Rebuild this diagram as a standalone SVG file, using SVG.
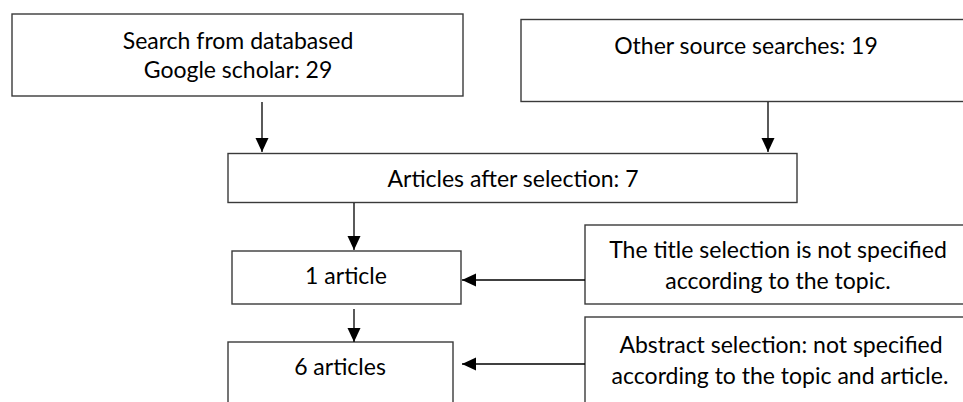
<svg xmlns="http://www.w3.org/2000/svg" width="963" height="402" viewBox="0 0 963 402">
<style>
.box{fill:#fff;stroke:#3a3a3a;stroke-width:1.4}
.t{font-family:Lato,"Open Sans","Liberation Sans",sans-serif;font-size:23px;fill:#000;text-anchor:middle}
.c{stroke:#000;stroke-width:1.3;fill:none;marker-end:url(#ah)}
</style>
<defs>
<marker id="ah" viewBox="0 0 14 14" refX="14" refY="7" markerWidth="14" markerHeight="14" markerUnits="userSpaceOnUse" orient="auto">
<path d="M0,0.5 L14,7 L0,13.5 Z" fill="#000"/>
</marker>
</defs>
<rect width="963" height="402" fill="#fff"/>
<g id="n1"><rect class="box" x="12" y="14" width="451" height="82"/>
<text class="t" x="238" y="48.5">Search from databased</text>
<text class="t" x="238" y="77.5">Google scholar: 29</text></g>
<g id="n2"><rect class="box" x="521" y="19.5" width="500" height="82"/>
<text class="t" x="746" y="53.5">Other source searches: 19</text></g>
<g id="n3"><rect class="box" x="228" y="153.5" width="569" height="49"/>
<text class="t" x="513" y="187">Articles after selection: 7</text></g>
<g id="n4"><rect class="box" x="232" y="251" width="229" height="53"/>
<text class="t" x="346" y="283.5">1 article</text></g>
<g id="n5"><rect class="box" x="228" y="342" width="225" height="90"/>
<text class="t" x="340" y="374.5">6 articles</text></g>
<g id="n6"><rect class="box" x="585" y="225" width="400" height="79"/>
<text class="t" x="778" y="257.5">The title selection is not specified</text>
<text class="t" x="778" y="288.5">according to the topic.</text></g>
<g id="n7"><rect class="box" x="585" y="317" width="400" height="110"/>
<text class="t" x="781" y="352.5">Abstract selection: not specified</text>
<text class="t" x="780" y="383.5">according to the topic and article.</text></g>
<g id="connectors">
<line class="c" x1="262" y1="102" x2="262" y2="152"/>
<line class="c" x1="768" y1="102" x2="768" y2="152"/>
<line class="c" x1="354" y1="203" x2="354" y2="250"/>
<line class="c" x1="354" y1="309" x2="354" y2="342"/>
<line class="c" x1="585" y1="280" x2="462" y2="280"/>
<line class="c" x1="585" y1="364" x2="462" y2="364"/>
</g>
</svg>
